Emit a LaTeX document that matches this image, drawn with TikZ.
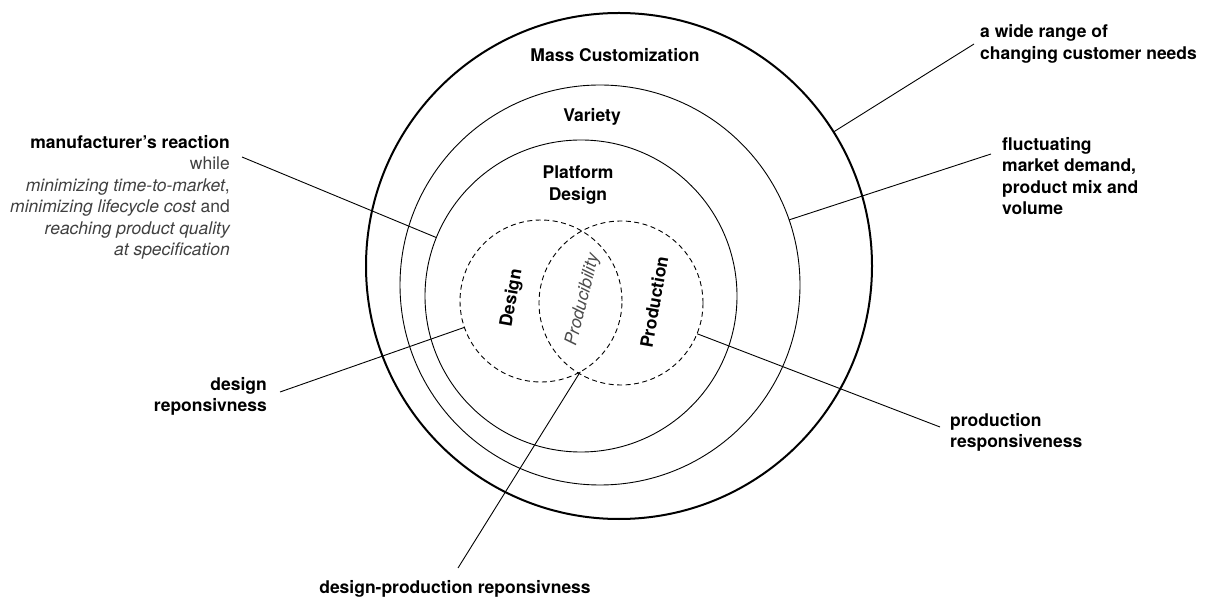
\documentclass[tikz,border=0pt]{standalone}
\usepackage{fontspec}
\setmainfont{TeX Gyre Heros}
\usetikzlibrary{positioning,calc}

\newcommand{\muted}[1]{{\mdseries\color{black!75}#1}}
\newcommand{\mutedit}[1]{{\mdseries\itshape\color{black!75}#1}}

\begin{document}
\begin{tikzpicture}[x=1pt,y=-1pt,
  every node/.style={font=\fontsize{17.5}{21.5}\selectfont},
  ring/.style={draw,circle,inner sep=0pt,outer sep=0pt,line width=.9pt},
  outer ring/.style={ring,line width=2pt},
  overlap/.style={ring,dash pattern=on 5pt off 3.5pt},
  title/.style={font=\fontsize{17.5}{21.5}\selectfont\bfseries,align=center},
  note/.style={font=\fontsize{17.5}{21.5}\selectfont\bfseries,inner sep=6pt},
  to/.style={line width=.9pt}]

    \useasboundingbox (0,0) rectangle (1216,601);

    % nested rings
    \node[outer ring,minimum size=506pt] (outer) at (619,266) {};
    \node[ring,minimum size=400pt] (variety) at (600,285) {};
    \node[ring,minimum size=312pt] (platform) at (581,296) {};
    \node[overlap,minimum size=162pt] (design) at (541,301) {};
    \node[overlap,minimum size=164pt] (production) at (621,303) {};

    \node[title] (mc) at (615,55) {Mass Customization};
    \node[title] (var) at (592,117) {Variety};
    \node[title] (pd) at (578,185) {Platform\\Design};

    \node[title,rotate=80] (des) at (512,298) {Design};
    \node[rotate=76,font=\fontsize{17.5}{21.5}\selectfont\itshape,text=black!70] (prodb) at (583,300) {Producibility};
    \node[title,rotate=80] (prod) at (654,302) {Production};

    % labels
    \node[note,align=left,anchor=west] (needs) at (974,44) {a wide range of\\changing customer needs};
    \node[note,align=left,anchor=west] (demand) at (996,176) {fluctuating\\market demand,\\product mix and\\volume};
    \node[note,align=right,anchor=east] (mfr) at (236,197.5) {manufacturer's reaction\\
        \muted{while}\\
        \mutedit{minimizing time-to-market}\muted{,}\\
        \mutedit{minimizing lifecycle cost} \muted{and}\\
        \mutedit{reaching product quality}\\
        \mutedit{at specification}};
    \node[note,align=right,anchor=east] (dr) at (273,396.5) {design\\reponsivness};
    \node[note,align=left,anchor=west] (pr) at (944,432.5) {production\\responsiveness};
    \node[note] (dpr) at (455,589) {design-production reponsivness};

    \coordinate (dm) at (991,154);
    \coordinate (mr) at (242,157);
    \coordinate (dc) at (280,392);
    \coordinate (pe) at (940,427);
    \coordinate (dp) at (458,568);

    \draw[to] (outer.32) -- (needs.west);
    \draw[to] (variety.19) -- (dm);
    \draw[to] (mr) -- (platform.158);
    \draw[to] (design.199) -- (dc);
    \draw[to] (production.-22) -- (pe);
    \draw[to] (design.-61) -- (dp);
\end{tikzpicture}
\end{document}
